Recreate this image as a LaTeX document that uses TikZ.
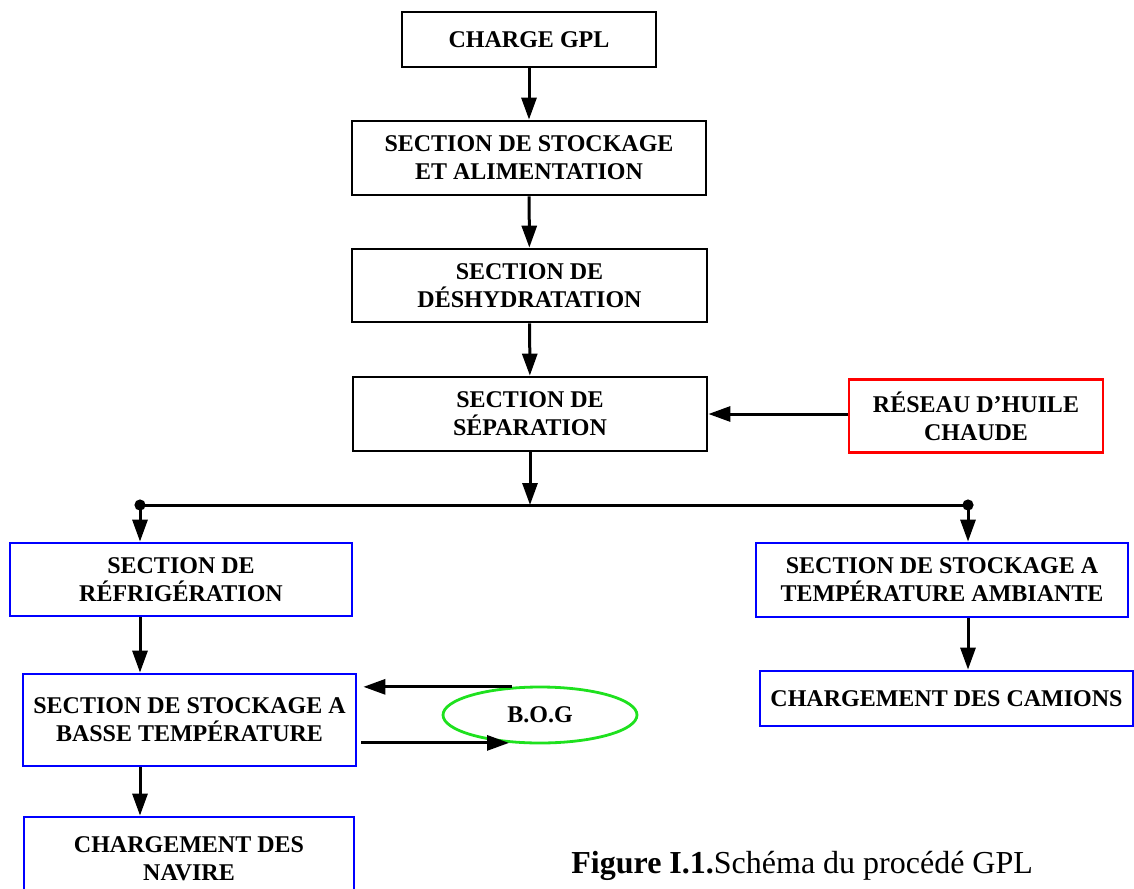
\documentclass[tikz,border=0pt]{standalone}
\usepackage{fontspec}
\setmainfont{Liberation Serif}
\usetikzlibrary{arrows.meta,shapes.geometric}
\definecolor{bogGreen}{RGB}{30,225,30}

\begin{document}
\begin{tikzpicture}[x=0.5pt,y=-0.5pt,
    box/.style={draw,line width=1.4pt,inner sep=2pt,align=center,
      font=\bfseries\fontsize{12}{14}\selectfont},
    blackbox/.style={box,draw=black},
    bluebox/.style={box,draw=blue},
    arr/.style={line width=1.5pt,-{Triangle[length=11pt,width=7.5pt]}}]
  \clip (0,0) rectangle (1134,888);

  % main chain
  \node [blackbox,minimum width=127pt,minimum height=27.5pt] (charge) at (529,39.5) {CHARGE GPL};
  \node [blackbox,minimum width=177pt,minimum height=37pt] (stock) at (529,158) {SECTION DE STOCKAGE\\ET ALIMENTATION};
  \node [blackbox,minimum width=177.5pt,minimum height=36.5pt] (deshy) at (529.5,285.5) {SECTION DE\\DÉSHYDRATATION};
  \node [blackbox,minimum width=177pt,minimum height=37pt] (sep) at (530,414) {SECTION DE\\SÉPARATION};
  \node [box,draw=red,minimum width=127pt,minimum height=36.5pt] (huile) at (976,416) {RÉSEAU D’HUILE\\CHAUDE};

  \draw [arr] (charge) -- (stock);
  \draw [arr] (stock) -- (deshy);
  \draw [arr] (deshy) -- (sep);
  \draw [arr] (huile.west |- sep.east) -- (sep.east);

  % split line
  \coordinate (jl) at (140,505);
  \coordinate (jr) at (968,505);
  \draw [arr] (sep.south) -- (sep.south |- jl);
  \draw [line width=1.5pt] (jl) -- (jr);
  \fill (jl) circle (2.8pt);
  \fill (jr) circle (2.8pt);

  % left branch
  \node [bluebox,minimum width=171pt,minimum height=36.5pt] (refrig) at (181,579.5) {SECTION DE\\RÉFRIGÉRATION};
  \node [bluebox,minimum width=166.5pt,minimum height=46pt] (basse) at (189.5,720) {SECTION DE STOCKAGE A\\BASSE TEMPÉRATURE};
  \node [bluebox,minimum width=165pt,minimum height=41.5pt] (navire) at (189,858.5) {CHARGEMENT DES\\NAVIRE};
  \node [draw=bogGreen,line width=1.4pt,ellipse,inner sep=0pt,minimum width=97pt,minimum height=28pt,
    font=\bfseries\fontsize{12}{14}\selectfont] (bog) at (540,715) {B.O.G};

  \draw [arr] (jl) -- (jl |- refrig.north);
  \draw [arr] (refrig.south -| jl) -- (basse.north -| jl);
  \draw [arr] (basse.south -| jl) -- (navire.north -| jl);
  \draw [arr,shorten >=3pt] (bog.135) -- (bog.135 -| basse.east);
  \draw [arr,shorten <=2pt] (basse.east |- bog.222) -- (bog.222);

  % right branch
  \node [bluebox,minimum width=186pt,minimum height=37pt] (ambiant) at (942,580) {SECTION DE STOCKAGE A\\TEMPÉRATURE AMBIANTE};
  \node [bluebox,minimum width=186.5pt,minimum height=27.5pt] (camions) at (946.5,698.5) {CHARGEMENT DES CAMIONS};

  \draw [arr] (jr) -- (jr |- ambiant.north);
  \draw [arr] (ambiant.south -| jr) -- (camions.north -| jr);

  \node [anchor=west,inner sep=0pt,font=\fontsize{16}{18}\selectfont] (caption) at (571,866) {\textbf{Figure I.1.}Schéma du procédé GPL};
\end{tikzpicture}
\end{document}
